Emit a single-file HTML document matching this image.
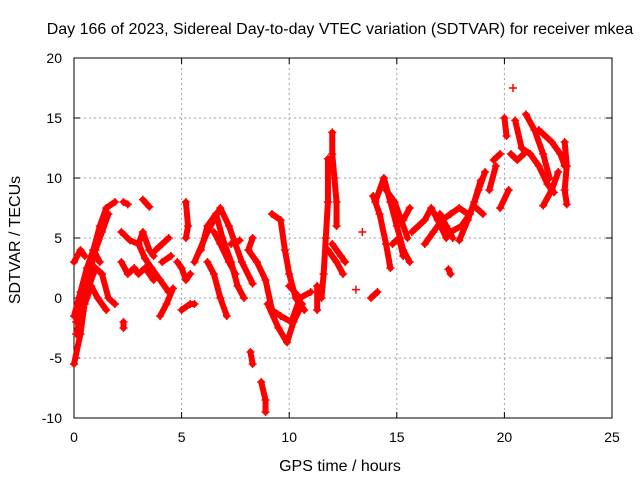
<!DOCTYPE html>
<html><head><meta charset="utf-8"><style>
body{margin:0;background:#fff;width:640px;height:480px;overflow:hidden}
text{font-family:"Liberation Sans",sans-serif;font-size:14px;fill:#000}
.big{font-size:16px}
</style></head><body>
<svg id="chart" width="640" height="480" viewBox="0 0 640 480">
<text class="big" x="340" y="34" text-anchor="middle">Day 166 of 2023, Sidereal Day-to-day VTEC variation (SDTVAR) for receiver mkea</text>
<g id="grid"></g>
<g id="axes"></g>
<g id="marks"></g>
<text class="big" x="340" y="471" text-anchor="middle">GPS time / hours</text>
<text class="big" transform="translate(20,240) rotate(-90)" text-anchor="middle">SDTVAR / TECUs</text>
</svg>
<script>
const xTicks=[0,5,10,15,20,25];
const yTicks=[-10,-5,0,5,10,15,20];
const tracks=[
[[0,-5.5],[0.3,-3],[0.6,1],[0.9,4],[1.2,6],[1.5,7.5],[1.9,8]],
[[0.1,-2],[0.4,0],[0.7,2],[1.0,4],[1.3,5.5],[1.6,7]],
[[0,-1.5],[0.3,0.5],[0.6,2.5],[0.9,4],[1.2,3]],
[[0.1,-3],[0.4,-1],[0.7,1],[1.0,2.5],[1.3,2],[1.6,0],[1.9,-0.5]],
[[0.5,-0.5],[0.8,1],[1.1,0],[1.5,-1]],
[[0,3],[0.3,4],[0.5,3.5]],
[[2.3,8],[2.5,7.8]],[[3.2,8.2],[3.5,7.6]],
[[2.2,5.5],[2.6,4.8],[3.0,4.5],[3.2,5.5],[3.5,4],[3.7,3.5]],
[[2.2,3],[2.5,2],[2.8,2.5],[3.0,2],[3.3,2.5],[3.7,1.5]],
[[3.0,4.5],[3.3,3.3],[3.6,2.5],[4.0,1.5],[4.4,0.5]],
[[3.8,4],[4.1,4.5],[4.4,5]],
[[4.0,-1.5],[4.3,-0.5],[4.6,0.8]],
[[4.1,3],[4.5,3.5]],
[[5.2,8],[5.3,6],[5.2,5]],
[[4.8,3],[5.0,2.5],[5.2,1.5],[5.4,2]],
[[5.0,-1],[5.4,-0.5],[5.6,-0.5]],
[[2.3,-2],[2.3,-2.5]],
[[5.6,3],[6.2,5.5],[6.8,7.5],[7.2,6],[7.8,3],[8.3,1.2]],
[[5.9,4],[6.2,6],[6.6,7],[6.9,5],[7.3,3],[7.6,1],[7.9,0]],
[[6.2,3],[6.5,2],[6.8,0],[7.1,-1.5]],
[[6.5,5.5],[6.8,4.5],[7.2,3],[7.5,2]],
[[7.3,4.5],[7.7,4.8]],
[[8.3,5],[8.1,4],[8.5,3],[8.9,1.5],[9.2,-1],[9.6,-1.5],[10.1,-2],[10.5,0]],
[[8.2,-4.5],[8.3,-5.5]],
[[8.7,-7],[8.9,-8.5],[8.9,-9.5]],
[[9.2,7],[9.6,6.5],[9.8,4],[10.0,2],[10.3,0],[10.7,-1]],
[[9.0,-0.5],[9.5,-2.5],[9.9,-3.7],[10.2,-2],[10.6,-0.5]],
[[10.0,1],[10.5,0],[11.0,0.5]],
[[11.5,0],[11.6,2],[11.7,5],[11.8,8],[11.8,11.6]],
[[12.0,13.8],[12.0,12],[12.1,10],[12.2,8],[12.2,6]],
[[11.3,1],[11.3,-1]],
[[11.8,4],[12.2,3],[12.5,2]],
[[12.0,4.5],[12.4,3.5],[12.6,3]],
[[13.4,5.5]],[[13.1,0.7]],[[13.8,0],[14.1,0.5]],
[[14.0,8],[14.4,10],[14.7,8],[15.0,6],[15.3,4],[15.6,3]],
[[13.9,8.5],[14.2,7],[14.5,4.5],[14.7,2.5]],
[[14.5,9],[14.9,8],[15.2,6.5],[15.5,5]],
[[14.8,4.5],[15.1,5],[15.3,3.5]],
[[15.3,6.5],[15.6,7.5]],
[[15.7,5.5],[16.0,6],[16.3,6.5],[16.6,7.5],[16.9,6.5],[17.3,5]],
[[16.3,4.5],[16.7,5.5],[17.1,6.5],[17.5,7],[17.9,7.5],[18.3,7]],
[[17.0,7],[17.3,6],[17.6,5]],
[[17.5,5.5],[18.0,6],[18.4,7],[18.8,9],[19.1,10.5]],
[[17.9,4.8],[18.3,6.5],[18.6,8],[18.9,9.8]],
[[17.4,2.4],[17.5,2.0]],
[[18.7,7.5],[19.0,7]],
[[19.3,9],[19.6,11]],[[19.5,11.5],[19.8,12]],[[19.8,7.5],[20.2,9]],
[[20.0,15],[20.1,13.5]],[[20.4,17.5]],
[[20.5,14.8],[20.8,12.5],[21.2,12],[21.6,11],[22.0,9.5],[22.3,8.8]],
[[21.0,15.3],[21.4,14],[21.8,12],[22.1,10]],
[[21.6,14],[22.2,13],[22.6,12],[22.8,11]],
[[21.8,7.7],[22.2,9],[22.5,10.5]],
[[22.8,13],[22.9,11],[22.8,9],[22.9,7.8]],
[[20.3,12],[20.6,11.5],[20.9,12]]
];
const L=74,R=612,T=58,B=418;
const sx=v=>L+(v-0)/(25-0)*(R-L);
const sy=v=>B-(v+10)/30*(B-T);
const NS="http://www.w3.org/2000/svg";
function mk(tag,attrs,parent){const e=document.createElementNS(NS,tag);for(const k in attrs)e.setAttribute(k,attrs[k]);parent.appendChild(e);return e;}
const grid=document.getElementById('grid'),axes=document.getElementById('axes'),marks=document.getElementById('marks');
xTicks.forEach(t=>{
  if(t>0&&t<25){const g=mk('line',{x1:sx(t),x2:sx(t),y1:T,y2:B,stroke:'#a0a0a0','stroke-dasharray':'2,3'},grid);
  
  }
  mk('line',{x1:sx(t),x2:sx(t),y1:B,y2:B-6,stroke:'#000'},axes);
  mk('line',{x1:sx(t),x2:sx(t),y1:T,y2:T+6,stroke:'#000'},axes);
  const tx=mk('text',{x:sx(t),y:B+24,'text-anchor':'middle'},axes);tx.textContent=t;
  
  
});
yTicks.forEach(t=>{
  if(t>-10&&t<20){const g=mk('line',{x1:L,x2:R,y1:sy(t),y2:sy(t),stroke:'#a0a0a0','stroke-dasharray':'2,3'},grid);
  
  }
  mk('line',{x1:L,x2:L+6,y1:sy(t),y2:sy(t),stroke:'#000'},axes);
  mk('line',{x1:R,x2:R-6,y1:sy(t),y2:sy(t),stroke:'#000'},axes);
  const tx=mk('text',{x:L-12,y:sy(t)+5,'text-anchor':'end'},axes);tx.textContent=t;
  
  
});
mk('rect',{x:L,y:T,width:R-L,height:B-T,fill:'none',stroke:'#000'},axes);
tracks.forEach(tr=>{
  const pts=tr.map(p=>sx(p[0])+','+sy(p[1])).join(' ');
  const pl=mk('polyline',{points:pts,fill:'none',stroke:'#ff0000','stroke-width':6,'stroke-linecap':'round','stroke-linejoin':'round'},marks);
  
  
  tr.forEach(p=>{
    const x=sx(p[0]),y=sy(p[1]);
    const m=mk('path',{d:`M${x-4},${y}H${x+4}M${x},${y-4}V${y+4}`,stroke:'#ff0000','stroke-width':1.5},marks);
    
    
  });
});
</script>
</body></html>
